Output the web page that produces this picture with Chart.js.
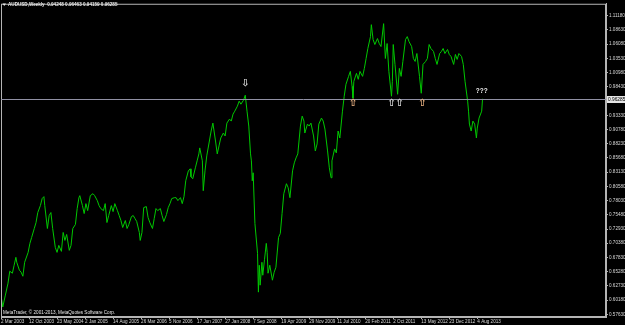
<!DOCTYPE html>
<html>
<head>
<meta charset="utf-8">
<script src="https://cdn.jsdelivr.net/npm/chart.js@4.4.1/dist/chart.umd.min.js"></script>
<style>
    html, body { margin: 0; padding: 0; background: #000; }
    canvas { display: block; }
</style>
</head>
<body>
<canvas id="chart" width="625" height="325"></canvas>
<script>
// weekly closes, week 0 = 2 Mar 2003
const weeks = [0, 2, 5, 8, 10, 13, 15, 17, 18, 21, 23, 25, 27, 31, 33, 35, 38, 40, 42, 45,
    47, 49, 50, 53, 55, 57, 59, 62, 64, 66, 69, 71, 73, 75, 78, 80, 82, 85, 87, 89,
    90, 93, 95, 97, 99, 102, 105, 107, 110, 112, 114, 117, 119, 121, 123, 126, 128, 130, 133, 135,
    137, 139, 142, 144, 146, 149, 151, 153, 155, 158, 159, 161, 163, 166, 168, 170, 173, 175, 177, 179,
    182, 184, 186, 189, 191, 193, 195, 198, 200, 202, 205, 207, 209, 211, 214, 216, 217, 219, 222, 224,
    226, 227, 230, 231, 233, 235, 238, 240, 242, 245, 247, 249, 251, 254, 256, 258, 261, 263, 265, 267,
    270, 272, 274, 277, 279, 281, 283, 285, 286, 287, 288, 290, 293, 294, 295, 296, 298, 299, 301, 303,
    304, 305, 307, 310, 312, 314, 317, 319, 321, 323, 326, 328, 330, 333, 335, 337, 339, 342, 344, 346,
    347, 350, 352, 354, 357, 359, 361, 363, 366, 368, 370, 373, 375, 377, 378, 381, 383, 385, 387, 390,
    392, 394, 397, 399, 401, 402, 403, 406, 408, 410, 413, 415, 417, 419, 422, 423, 425, 427, 430, 432,
    434, 437, 439, 441, 443, 446, 447, 448, 450, 453, 455, 457, 459, 462, 464, 466, 469, 471, 473, 475,
    478, 480, 482, 485, 487, 489, 491, 494, 496, 498, 501, 503, 505, 507, 510, 512, 514, 517, 519, 521,
    523, 526, 528, 530, 533, 534, 535, 537, 539, 541, 543, 544, 546, 549, 550];
const closes = [0.6108, 0.5894, 0.6108, 0.6322, 0.6536, 0.6500, 0.6643, 0.6785, 0.6696, 0.6554, 0.6518, 0.6446, 0.6696, 0.6874, 0.7035, 0.7142, 0.7302, 0.7409, 0.7588, 0.7713,
    0.7838, 0.7873, 0.7713, 0.7302, 0.7534, 0.7588, 0.7302, 0.6963, 0.6874, 0.6999, 0.6892, 0.7231, 0.7088, 0.7195, 0.6910, 0.6999, 0.7302, 0.7374, 0.7659, 0.7855,
    0.7891, 0.7713, 0.7570, 0.7748, 0.7623, 0.7891, 0.7926, 0.7891, 0.7802, 0.7713, 0.7659, 0.7623, 0.7748, 0.7409, 0.7534, 0.7713, 0.7605, 0.7748, 0.7623, 0.7534,
    0.7445, 0.7320, 0.7445, 0.7302, 0.7374, 0.7516, 0.7534, 0.7481, 0.7427, 0.7231, 0.7088, 0.7231, 0.7677, 0.7695, 0.7498, 0.7409, 0.7302, 0.7481, 0.7659, 0.7623,
    0.7659, 0.7534, 0.7427, 0.7552, 0.7677, 0.7748, 0.7838, 0.7855, 0.7855, 0.7802, 0.7855, 0.7748, 0.7873, 0.8158, 0.8336, 0.8372, 0.8229, 0.8194, 0.8390, 0.8515,
    0.8640, 0.8747, 0.8515, 0.7980, 0.8336, 0.8604, 0.8871, 0.9050, 0.9192, 0.8871, 0.8640, 0.8783, 0.8925, 0.9014, 0.8961, 0.9192, 0.9264, 0.9228, 0.9353, 0.9406,
    0.9496, 0.9585, 0.9531, 0.9603, 0.9692, 0.9406, 0.9139, 0.8640, 0.8515, 0.8158, 0.8301, 0.7392, 0.6857, 0.6161, 0.6643, 0.6286, 0.6696, 0.6464, 0.6750, 0.7035,
    0.6874, 0.6500, 0.6643, 0.6375, 0.6518, 0.6607, 0.7142, 0.7213, 0.7570, 0.7926, 0.8105, 0.8033, 0.7855, 0.8336, 0.8479, 0.8568, 0.8640, 0.9139, 0.9317, 0.9228,
    0.9014, 0.9174, 0.9139, 0.9192, 0.8961, 0.8693, 0.8818, 0.9174, 0.9282, 0.9228, 0.9085, 0.8693, 0.8390, 0.8212, 0.8515, 0.8729, 0.8658, 0.9050, 0.8925, 0.9406,
    0.9674, 0.9888, 1.0030, 1.0119, 0.9852, 0.9638, 0.9941, 1.0084, 0.9977, 1.0119, 1.0030, 1.0173, 1.0351, 1.0530, 1.0743, 1.0957, 1.0690, 1.0601, 1.0708, 1.0619,
    1.0565, 1.0975, 1.0351, 1.0619, 1.0119, 0.9674, 0.9941, 1.0601, 1.0244, 0.9709, 1.0173, 1.0030, 1.0298, 1.0690, 1.0743, 1.0654, 1.0565, 1.0351, 1.0298, 1.0440,
    1.0030, 0.9727, 1.0244, 1.0298, 1.0351, 1.0601, 1.0530, 1.0476, 1.0351, 1.0244, 1.0440, 1.0476, 1.0530, 1.0440, 1.0512, 1.0423, 1.0387, 1.0244, 1.0423, 1.0334,
    1.0440, 1.0387, 1.0244, 0.9941, 0.9585, 0.9406, 0.9174, 0.9050, 0.9228, 0.9174, 0.8925, 0.9103, 0.9282, 0.9406, 0.96285];

const dateLabels = ["2 Mar 2003", "12 Oct 2003", "23 May 2004", "2 Jan 2005", "14 Aug 2005", "26 Mar 2006",
    "5 Nov 2006", "17 Jun 2007", "27 Jan 2008", "7 Sep 2008", "19 Apr 2009", "29 Nov 2009",
    "11 Jul 2010", "20 Feb 2011", "2 Oct 2011", "13 May 2012", "23 Dec 2012", "4 Aug 2013"];
const dateTickWeeks = [0, 32, 64, 96, 128, 160, 192, 224, 256, 288, 320, 352, 384, 416, 448, 480, 512, 544];

const priceTicks = [1.11180, 1.08630, 1.06080, 1.03530, 1.00980, 0.98430, 0.95880, 0.93330, 0.90780, 0.88230, 0.85680,
    0.83130, 0.80580, 0.78030, 0.75480, 0.72930, 0.70380, 0.67830, 0.65280, 0.62730, 0.60180, 0.57630];

const headerText = "AUDUSD,Weekly  0.94248 0.96463 0.94159 0.96285";
const copyrightText = "MetaTrader, \u00a9 2001-2013, MetaQuotes Software Corp.";
const lastPrice = 0.96285;

// arrow objects on the chart
const markWeeks = [279, 402, 446, 455, 481];
const markPrices = [0.9900, 0.9550, 0.9550, 0.9550, 0.9550];
const markGlyphs = ["\u21e9", "\u21e7", "\u21e7", "\u21e7", "\u21e7"];
const markColors = ['#d8d8d8', '#e8b080', '#d8d8d8', '#d8d8d8', '#e8b080'];
const questionWeek = 549;
const questionPrice = 0.9763;

const FONT = "'Liberation Sans', Arial, sans-serif";
const GREY = '#b4b4b4';

const overlayPlugin = {
    id: 'mtOverlay',
    beforeDraw(chart) {
        const ctx = chart.ctx;
        ctx.save();
        ctx.fillStyle = '#000';
        ctx.fillRect(0, 0, chart.width, chart.height);
        ctx.restore();
    },
    afterDraw(chart) {
        const ctx = chart.ctx;
        const area = chart.chartArea;
        const xs = chart.scales.x;
        const ys = chart.scales.y;
        ctx.save();

        // frame
        ctx.strokeStyle = GREY;
        ctx.lineWidth = 1;
        ctx.strokeRect(area.left + 0.5, area.top + 0.5, area.right - area.left - 1, area.bottom - area.top - 1);

        // bid line + price label
        let py = Math.round(ys.getPixelForValue(lastPrice)) + 0.5;
        ctx.strokeStyle = '#9090a4';
        ctx.beginPath();
        ctx.moveTo(area.left, py);
        ctx.lineTo(area.right, py);
        ctx.stroke();
        ctx.fillStyle = '#e6e6e6';
        ctx.fillRect(area.right + 1, py - 3.5, 18, 7);
        ctx.fillStyle = '#000';
        ctx.font = "4.8px " + FONT;
        ctx.textBaseline = 'middle';
        ctx.textAlign = 'left';
        ctx.fillText(lastPrice.toFixed(5), area.right + 2, py);

        // header
        ctx.fillStyle = '#e8e8e8';
        ctx.beginPath();
        ctx.moveTo(2.5, 3.5);
        ctx.lineTo(6, 3.5);
        ctx.lineTo(4.25, 6);
        ctx.closePath();
        ctx.fill();
        ctx.font = "bold 4.6px " + FONT;
        ctx.fillText(headerText, 8, 5);

        // copyright
        ctx.font = "4.6px " + FONT;
        ctx.fillText(copyrightText, 3, area.bottom - 4);

        // arrows
        ctx.textAlign = 'center';
        ctx.font = "bold 10px 'DejaVu Sans', sans-serif";
        markWeeks.forEach((w, i) => {
            ctx.fillStyle = markColors[i];
            ctx.fillText(markGlyphs[i], xs.getPixelForValue(w), ys.getPixelForValue(markPrices[i]));
        });

        ctx.fillStyle = '#f0f0f0';
        ctx.font = "bold 6.5px " + FONT;
        ctx.fillText("???", xs.getPixelForValue(questionWeek), ys.getPixelForValue(questionPrice));
        ctx.restore();
    }
};

function buildChart() {
    let points = weeks.map((w, i) => ({ x: w, y: closes[i] }));
    new Chart(document.getElementById('chart'), {
        type: 'line',
        data: {
            datasets: [{
                data: points,
                borderColor: '#00c800',
                borderWidth: 1,
                pointRadius: 0,
                tension: 0,
                fill: false
            }]
        },
        options: {
            responsive: false,
            animation: false,
            devicePixelRatio: 1,
            layout: { padding: { top: 2, left: 1, right: 0, bottom: 0 } },
            plugins: { legend: { display: false }, tooltip: { enabled: false } },
            scales: {
                x: {
                    type: 'linear',
                    min: 0,
                    max: 691,
                    afterBuildTicks: (scale) => { scale.ticks = dateTickWeeks.map(v => ({ value: v })); },
                    afterFit: (scale) => { scale.height = 8; },
                    grid: { display: true, drawOnChartArea: false, tickLength: 2, color: GREY },
                    border: { display: true, color: GREY },
                    ticks: {
                        autoSkip: false,
                        maxRotation: 0,
                        align: 'start',
                        padding: 0,
                        color: '#d8d8d8',
                        font: { family: FONT, size: 4.6 },
                        callback: (value) => dateLabels[dateTickWeeks.indexOf(value)]
                    }
                },
                y: {
                    position: 'right',
                    min: 0.5715,
                    max: 1.1332,
                    afterBuildTicks: (scale) => { scale.ticks = priceTicks.map(v => ({ value: v })); },
                    afterFit: (scale) => { scale.width = 19; },
                    grid: { display: true, drawOnChartArea: false, tickLength: 2, color: GREY },
                    border: { display: true, color: GREY },
                    ticks: {
                        autoSkip: false,
                        padding: 1,
                        color: '#d8d8d8',
                        font: { family: FONT, size: 4.6 },
                        callback: (value) => value.toFixed(5)
                    }
                }
            }
        },
        plugins: [overlayPlugin]
    });
}

buildChart();
</script>
</body>
</html>
